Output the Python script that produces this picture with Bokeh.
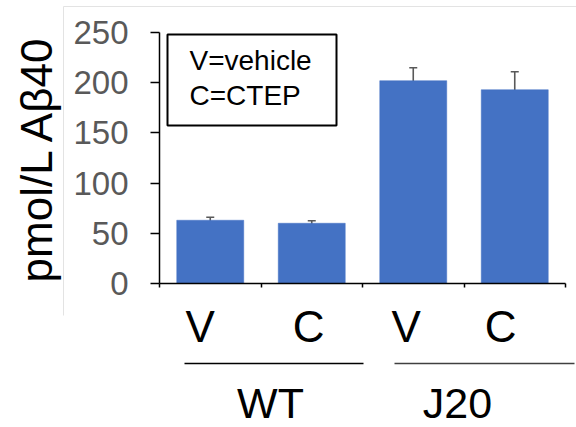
import math

from bokeh.plotting import figure
from bokeh.models import (Range1d, FixedTicker, Whisker, TeeHead, Label, Arrow,
                          BoxAnnotation, ColumnDataSource, LinearAxis)
from bokeh.embed import file_html
from bokeh.resources import INLINE

# --- data -------------------------------------------------------------
treatments = ["V", "C", "V", "C"]
groups = ["WT", "J20"]
values = [63, 60, 202, 193]          # pmol/L Abeta40
errors = [3, 2.5, 13, 18]            # error bar half-lengths
y_ticks = [0, 50, 100, 150, 200, 250]
legend_lines = ["V=vehicle", "C=CTEP"]
y_title = "pmol/L Aβ40"

# --- styling / layout -------------------------------------------------
W, H = 576, 427
FONT = "Liberation Sans"
BLUE = "#4472C4"
GREY_TEXT = "#595959"

# plot area placement on the canvas (pixels) and its scale
AX_LEFT, AX_BOTTOM = 159, 283
PX_PER_CAT, PX_PER_UNIT = 101.5, 1.004


def sx(px):
    """canvas x pixel -> data x"""
    return (px - AX_LEFT) / PX_PER_CAT


def sy(py):
    """canvas y pixel (from top) -> data y"""
    return (AX_BOTTOM - py) / PX_PER_UNIT


treat_label_dx = [-10, -3, -7, -14]          # pixel nudges for V/C labels
group_spans_px = [(184, 363), (394, 574)]
group_label_px = [270, 457]
group_line_colors = ["black", "#404040"]

x = [i + 0.5 for i in range(len(values))]
src = ColumnDataSource(dict(
    x=x,
    top=values,
    upper=[v + e for v, e in zip(values, errors)],
    lower=[v - e for v, e in zip(values, errors)],
))

p = figure(width=W, height=H,
           x_range=Range1d(sx(0), sx(W)), y_range=Range1d(sy(H), sy(0)),
           output_backend="svg", toolbar_location=None,
           x_axis_location=None, y_axis_location=None,
           min_border=0)
p.outline_line_color = None
p.xgrid.visible = False
p.ygrid.visible = False
p.background_fill_color = "white"
p.border_fill_color = "white"

p.vbar(x="x", top="top", width=0.66, source=src, fill_color=BLUE,
       line_color=BLUE, line_width=0.5)

head_kw = dict(size=8, line_color=GREY_TEXT, line_width=1.5)
p.add_layout(Whisker(base="x", upper="upper", lower="lower", source=src,
                     line_color=GREY_TEXT, line_width=1.6,
                     upper_head=TeeHead(**head_kw), lower_head=TeeHead(**head_kw)))

# y axis, pinned at x = 0
yax = LinearAxis(fixed_location=0, bounds=(0, 250),
                 ticker=FixedTicker(ticks=y_ticks))
yax.major_label_text_font = FONT
yax.major_label_text_font_size = "33px"
yax.major_label_text_color = GREY_TEXT
yax.major_label_standoff = 22
yax.major_tick_out = 9
yax.major_tick_in = 0
yax.minor_tick_out = 0
yax.minor_tick_in = 0
yax.axis_line_color = "black"
yax.axis_line_width = 1.5
yax.major_tick_line_width = 1.5
p.add_layout(yax, "left")

# x axis, pinned at y = 0: ticks on the category boundaries only
xax = LinearAxis(fixed_location=0, bounds=(0, len(values)),
                 ticker=FixedTicker(ticks=[], minor_ticks=list(range(len(values) + 1))))
xax.major_tick_out = 0
xax.major_tick_in = 0
xax.minor_tick_out = 4
xax.minor_tick_in = 0
xax.minor_tick_line_color = "black"
xax.minor_tick_line_width = 1.5
xax.axis_line_color = "black"
xax.axis_line_width = 1.5
p.add_layout(xax, "below")

# y axis title
p.add_layout(Label(x=sx(36), y=sy(158), text=y_title, angle=math.pi / 2,
                   text_align="center", text_baseline="alphabetic",
                   text_font=FONT, text_font_size="44px", text_color="black"))

# treatment labels under each bar
for xi, t, dx in zip(x, treatments, treat_label_dx):
    p.add_layout(Label(x=xi, y=sy(326), x_offset=dx, text=t, text_align="center",
                       text_baseline="alphabetic", text_font=FONT,
                       text_font_size="44px", text_color="black"))

# genotype brackets and labels
for (x0, x1), gx, g, c in zip(group_spans_px, group_label_px, groups, group_line_colors):
    p.add_layout(Arrow(end=None, x_start=sx(x0), y_start=sy(363),
                       x_end=sx(x1), y_end=sy(363), line_color=c, line_width=1.5))
    p.add_layout(Label(x=sx(gx), y=sy(402), text=g, text_align="center",
                       text_baseline="alphabetic", text_font=FONT,
                       text_font_size="43px", text_color="black"))

# key box
p.add_layout(BoxAnnotation(left=sx(167), right=sx(336), bottom=sy(125), top=sy(34),
                           fill_color="white", fill_alpha=1.0,
                           line_color="black", line_alpha=1.0, line_width=2))
for i, line in enumerate(legend_lines):
    p.add_layout(Label(x=sx(189), y=sy(60 + 35 * i), text=line, text_align="left",
                       text_baseline="alphabetic", text_font=FONT,
                       text_font_size="28px", text_color="black"))

# faint chart-area border (left and top edges)
for xs, ys, xe, ye in [(63, 6, 63, 315), (63, 6, W + 5, 6)]:
    p.add_layout(Arrow(end=None, x_start=sx(xs), y_start=sy(ys), x_end=sx(xe), y_end=sy(ye),
                       line_color="#e3e3e3", line_width=1))

open("out.html", "w").write(file_html(p, INLINE))
